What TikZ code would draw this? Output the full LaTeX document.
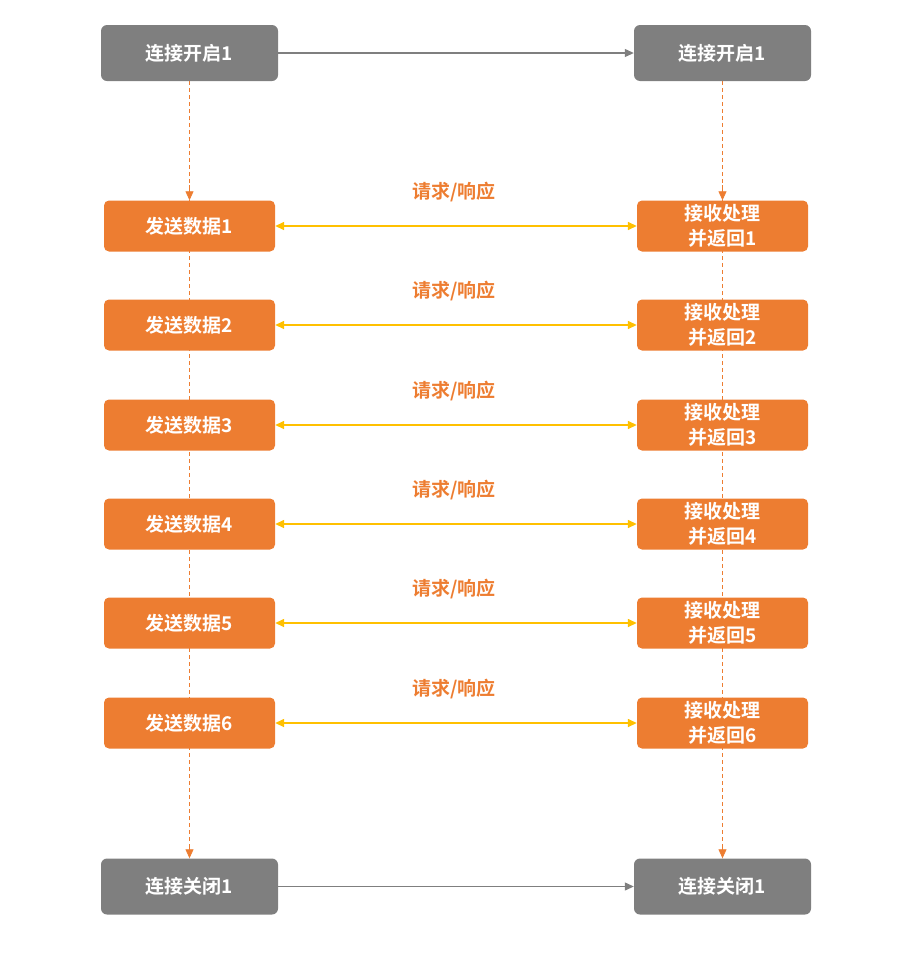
\documentclass[tikz,border=0pt]{standalone}
\usepackage{fontspec}
\setmainfont{Noto Sans CJK SC}[BoldFont={Noto Sans CJK SC Bold}]
\usetikzlibrary{arrows.meta}
\definecolor{gbox}{HTML}{7F7F7F}
\definecolor{obox}{HTML}{ED7D31}
\definecolor{yel}{HTML}{FFC000}
\begin{document}
\begin{tikzpicture}[x=1pt,y=-1pt,
  gray box/.style={fill=gbox,rounded corners=6pt,minimum width=177pt,minimum height=56pt,text=white,font=\fontsize{19}{21}\selectfont\bfseries,inner sep=0pt},
  or box/.style={fill=obox,rounded corners=5pt,minimum width=171pt,minimum height=51pt,text=white,font=\fontsize{19}{22}\selectfont\bfseries,inner sep=0pt,align=center},
  lab/.style={text=obox,font=\fontsize{19}{21}\selectfont\bfseries},
  dash line/.style={obox,dashed,dash pattern=on 4pt off 3pt,line width=0.8pt},
  tipo/.style={-{Triangle[length=9pt,width=8pt]}}]
\useasboundingbox (0,0) rectangle (914,956);
\draw[dash line] (189.5,81) -- (189.5,858);
\draw[dash line] (722.5,81) -- (722.5,858);
\node[gray box] (ts) at (189.5,53) {连接开启1};
\node[gray box] (tr) at (722.5,53) {连接开启1};
\node[gray box] (bs) at (189.5,886.5) {连接关闭1};
\node[gray box] (br) at (722.5,886.5) {连接关闭1};
\draw[gbox,line width=1.2pt,tipo] (ts) -- (tr);
\draw[gbox,line width=1.2pt,tipo] (bs) -- (br);
\foreach \i/\y in {1/226,2/325,3/425,4/524,5/623,6/723}{
  \node[or box] (s\i) at (189.5,\y) {发送数据\i};
  \node[or box,font=\fontsize{19}{25}\selectfont\bfseries] (r\i) at (722.5,\y) {接收处理\\并返回\i};
  \draw[yel,line width=1.5pt,{Triangle[length=9pt,width=8pt]}-{Triangle[length=9pt,width=8pt]}] (s\i) -- (r\i);
  \node[lab] (l\i) at (454,\y-34) {请求/响应};
}
\draw[obox,tipo,line width=0.8pt] (189.5,185) -- (s1);
\draw[obox,tipo,line width=0.8pt] (722.5,185) -- (r1);
\draw[obox,tipo,line width=0.8pt] (189.5,845) -- (bs);
\draw[obox,tipo,line width=0.8pt] (722.5,845) -- (br);
\end{tikzpicture}
\end{document}
